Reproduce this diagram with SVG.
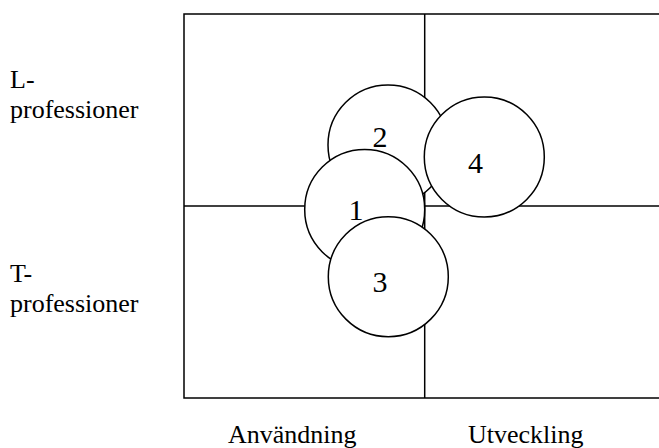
<svg xmlns="http://www.w3.org/2000/svg" width="659" height="448" viewBox="0 0 659 448">
<style>
.ln{stroke:#000;stroke-width:1.5;fill:none}
.c{stroke:#000;stroke-width:1.5;fill:#fff}
text{font-family:'Liberation Serif','Times New Roman','DejaVu Serif',serif;fill:#000}
.t{font-size:26px}
.n{font-size:30px;text-anchor:middle}
</style>
<rect width="659" height="448" fill="#fff"/>
<g id="connectors">
<rect class="ln" x="184" y="14" width="500" height="384"/>
<line class="ln" x1="424.7" y1="14" x2="424.7" y2="398"/>
<line class="ln" x1="184" y1="206" x2="684" y2="206"/>
</g>
<g id="labels">
<text class="t" x="10" y="88">L-</text>
<text class="t" x="10" y="118">professioner</text>
<text class="t" x="10" y="282">T-</text>
<text class="t" x="10" y="312">professioner</text>
<text class="t" x="228" y="443">Användning</text>
<text class="t" x="468" y="443">Utveckling</text>
</g>
<g id="node2"><circle class="c" cx="388" cy="145" r="60"/><text class="n" x="380" y="147">2</text></g>
<g id="node4"><circle class="c" cx="484.3" cy="157" r="60"/><text class="n" x="475.5" y="173">4</text></g>
<g id="node1"><circle class="c" cx="364.7" cy="209.5" r="60"/><text class="n" x="356" y="220">1</text></g>
<g id="node3"><circle class="c" cx="388.3" cy="276.7" r="60"/><text class="n" x="380" y="291.5">3</text></g>
</svg>
